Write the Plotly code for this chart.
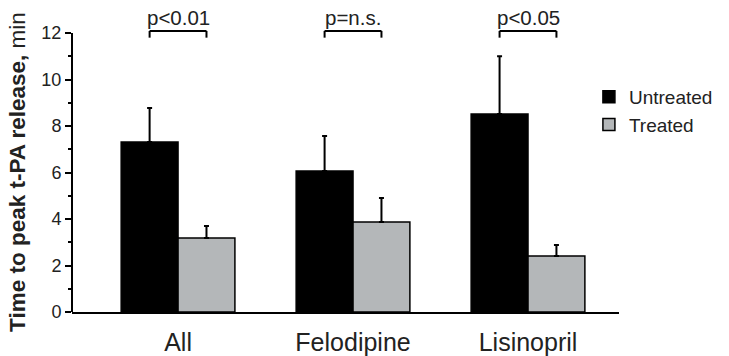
import plotly.graph_objects as go

categories = ["All", "Felodipine", "Lisinopril"]
untreated = [7.31, 6.06, 8.52]
untreated_err = [1.46, 1.51, 2.48]
treated = [3.18, 3.87, 2.41]
treated_err = [0.52, 1.03, 0.47]
p_labels = ["p<0.01", "p=n.s.", "p<0.05"]
y_ticks = [0, 2, 4, 6, 8, 10, 12]
y_minor = [1, 3, 5, 7, 9, 11]

FONT = "Liberation Sans, Arial, sans-serif"
bargap = 0.35
half = (1 - bargap) / 4  # offset of bar centre from category centre

fig = go.Figure()
fig.add_trace(go.Bar(
    name="Untreated", x=categories, y=untreated,
    marker=dict(color="#000000", line=dict(color="#000000", width=1.5)),
    error_y=dict(type="data", array=untreated_err, arrayminus=[0] * 3,
                 symmetric=False, color="#000000", thickness=2, width=2.5),
))
fig.add_trace(go.Bar(
    name="Treated", x=categories, y=treated,
    marker=dict(color="#b4b7b9", line=dict(color="#000000", width=1.5)),
    error_y=dict(type="data", array=treated_err, arrayminus=[0] * 3,
                 symmetric=False, color="#000000", thickness=2, width=2.5),
))

shapes = [dict(type="line", xref="paper", yref="y", x0=0, x1=0, y0=0, y1=12,
               line=dict(color="black", width=2))]
annotations = []
for i, lab in enumerate(p_labels):
    xl, xr = i - half, i + half
    for (a, b, c, d) in [(xl, 12.09, xr, 12.09), (xl, 12.09, xl, 11.8), (xr, 12.09, xr, 11.8)]:
        shapes.append(dict(type="line", xref="x", yref="y", x0=a, y0=b, x1=c, y1=d,
                           line=dict(color="black", width=2)))
    annotations.append(dict(x=i, y=12.15, xref="x", yref="y", text=lab, showarrow=False,
                            xanchor="center", yanchor="bottom", borderpad=0,
                            font=dict(family=FONT, size=20.5, color="#222")))

annotations.append(dict(x=-0.1, y=0.45, xref="paper", yref="paper",
                        text="<b>Time to peak t-PA release,</b> min", textangle=-90,
                        showarrow=False, xanchor="center", yanchor="middle",
                        font=dict(family=FONT, size=22.5, color="#222")))

fig.update_layout(
    width=729, height=356,
    margin=dict(l=72, r=110, t=0, b=44, autoexpand=False),
    paper_bgcolor="white", plot_bgcolor="white",
    barmode="group", bargap=bargap, bargroupgap=0,
    showlegend=True,
    legend=dict(x=0.945, y=0.75, xanchor="left", yanchor="top",
                font=dict(family=FONT, size=19, color="#222"),
                bgcolor="rgba(0,0,0,0)", itemwidth=30),
    shapes=shapes, annotations=annotations,
    font=dict(family=FONT, color="#222"),
)
fig.update_xaxes(
    range=[-0.606, 2.52], showline=True, linecolor="black", linewidth=2,
    ticks="", showgrid=False, zeroline=False, ticklabelstandoff=7,
    tickfont=dict(family=FONT, size=25, color="#222"),
)
fig.update_yaxes(
    range=[0, 13.42], showline=False, showgrid=False, zeroline=False,
    tickmode="array", tickvals=y_ticks, ticks="outside", ticklen=6, tickwidth=1.5,
    tickcolor="black", tickfont=dict(family=FONT, size=18, color="#222"),
    minor=dict(tickmode="array", tickvals=y_minor, ticks="outside", ticklen=3,
               tickwidth=1.5, tickcolor="black"),
)

fig.write_html("out.html", config={"displayModeBar": False},
               post_script="document.body.style.margin='0';document.body.style.overflow='hidden';")
